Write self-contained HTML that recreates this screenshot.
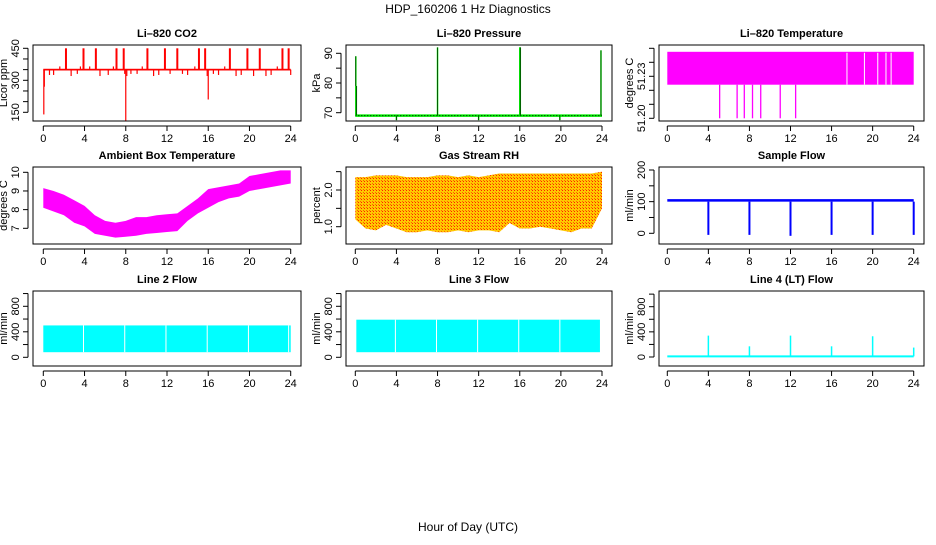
<!DOCTYPE html>
<html><head><meta charset="utf-8"><style>
body{margin:0;background:#fff}
svg text{font-family:"Liberation Sans",sans-serif;font-size:11px;fill:#000}
</style></head><body>
<svg id="c" width="936" height="540" xmlns="http://www.w3.org/2000/svg">
<text x="468" y="13" text-anchor="middle" style="font-size:12px">HDP_160206  1 Hz Diagnostics</text>
<text x="468" y="531" text-anchor="middle" style="font-size:12px">Hour of Day (UTC)</text>
</svg>
<script>
// ---- data ----
const xTicks=[0,4,8,12,16,20,24];
const co2Base=350;
const co2SpikeHours=[0.05,0.1,0.6,1,1.6,2.2,2.7,3.3,3.6,3.9,4.5,5.1,5.5,6.3,6.8,7.1,7.8,7.9,8.0,8.1,8.5,9.1,9.6,10.1,10.7,11.2,11.8,12.3,13.0,13.5,14.0,14.7,15.1,15.7,15.9,16.0,16.5,17.0,17.6,18.1,18.7,19.2,19.8,20.4,21.0,21.6,22.1,22.7,23.2,23.8,24.0];
const co2SpikeValues=[140,270,325,325,365,450,320,330,365,450,365,450,320,325,365,450,450,330,110,320,330,330,365,450,320,325,450,330,450,330,325,365,450,450,320,210,330,325,365,450,320,325,450,320,450,320,325,365,450,450,325];
const presBase=69;
const presSpikeHours=[0.05,0.1,4,8,12,16,16.05,19.9,23.9];
const presSpikeValues=[89,79,67.5,92,67.5,92,92,67.5,91];
const tempBandLow=51.224, tempBandHigh=51.2475;
const tempGapHours=[17.5,19.2,20.5,21.3,21.8];
const tempDropHours=[5.1,6.8,7.5,8.3,9.1,11.0,12.5];
const tempDropValues=[51.2,51.2,51.2,51.2,51.2,51.2,51.2];
const ambHours=[0,1,2,3,4,5,6,7,8,9,10,11,12,13,14,15,16,17,18,19,20,21,22,23,24];
const ambUpper=[9.15,9.0,8.8,8.5,8.2,7.7,7.4,7.3,7.4,7.6,7.6,7.7,7.75,7.8,8.2,8.6,9.1,9.2,9.3,9.4,9.8,9.9,10.0,10.1,10.1];
const ambLower=[8.1,7.9,7.7,7.3,7.1,6.7,6.6,6.5,6.55,6.6,6.7,6.75,6.8,6.85,7.4,7.8,8.1,8.4,8.6,8.7,9.0,9.1,9.2,9.3,9.4];
const rhHours=ambHours;
const rhUpper=[2.35,2.35,2.4,2.4,2.4,2.35,2.35,2.35,2.4,2.4,2.35,2.4,2.35,2.4,2.45,2.45,2.45,2.45,2.45,2.45,2.45,2.45,2.45,2.45,2.5];
const rhLower=[1.2,0.95,0.9,1.05,0.95,0.85,0.85,0.9,0.85,0.85,0.9,0.85,0.9,0.9,0.85,1.1,0.95,0.95,1.0,0.95,0.9,0.85,0.95,0.95,1.5];
const sfLow=100, sfHigh=108;
const sfDropHours=[4,8,12,16,20,24];
const sfDropValues=[-5,-5,-8,-5,-5,-5];
const l2Low=80, l2High=500;
const l2GapHours=[3.9,7.9,11.9,15.9,19.9,23.8];
const l3Low=80, l3High=590;
const l3GapHours=[3.9,7.9,11.9,15.9,19.9];
const l4Base=10;
const l4SpikeHours=[4,8,12,16,20,24];
const l4SpikeValues=[340,170,340,170,330,150];

// ---- helpers ----
const svg=document.getElementById('c');
const NS='http://www.w3.org/2000/svg';
function mk(tag,attrs,parent){const e=document.createElementNS(NS,tag);for(const k in attrs)e.setAttribute(k,attrs[k]);(parent||svg).appendChild(e);return e;}
const cols=[{l:33,r:301,x0:43.3,x24:290.7},{l:346,r:612,x0:355.3,x24:602},{l:659,r:924,x0:667.3,x24:913.7}];
const rows=[{t:45,b:121},{t:167,b:244},{t:291,b:366}];
function panel(ci,ri,name,title,ylab,yv0,yp0,yv1,yp1,yTickVals,yLabVals){
  const c=cols[ci],r=rows[ri];
  const g=mk('g',{});
  
  
  const X=h=>c.x0+(h/24)*(c.x24-c.x0);
  const Y=v=>yp0+(v-yv0)*(yp1-yp0)/(yv1-yv0);
  const plot=mk('g',{},g);
  
  
  const box=mk('rect',{x:c.l,y:r.t,width:c.r-c.l,height:r.b-r.t,fill:'none',stroke:'#000','stroke-width':1},g);
  
  
  const t=mk('text',{x:(c.l+c.r)/2,y:r.t-8,'text-anchor':'middle','font-weight':'bold'},g);t.textContent=title;
  
  
  const xa=mk('g',{},g);
  
  
  mk('line',{x1:X(0),x2:X(24),y1:r.b+5,y2:r.b+5,stroke:'#000'},xa);
  xTicks.forEach(h=>{mk('line',{x1:X(h),x2:X(h),y1:r.b+5,y2:r.b+10,stroke:'#000'},xa);
    const tx=mk('text',{x:X(h),y:r.b+21,'text-anchor':'middle'},xa);tx.textContent=h;});
  const ya=mk('g',{},g);
  
  
  const ax=c.l-5;
  mk('line',{x1:ax,x2:ax,y1:Y(yTickVals[0]),y2:Y(yTickVals[yTickVals.length-1]),stroke:'#000'},ya);
  yTickVals.forEach(v=>mk('line',{x1:ax-5,x2:ax,y1:Y(v),y2:Y(v),stroke:'#000'},ya));
  yLabVals.forEach(v=>{const tx=mk('text',{x:0,y:0,'text-anchor':'middle',transform:`translate(${ax-9},${Y(v)}) rotate(-90)`},ya);tx.textContent=v;});
  const yl=mk('text',{x:0,y:0,'text-anchor':'middle',transform:`translate(${ax-21},${(r.t+r.b)/2}) rotate(-90)`},g);yl.textContent=ylab;
  
  
  return {X,Y,plot};
}
function vseg(p,x,y1,y2,col,w){mk('line',{x1:x,x2:x,y1:y1,y2:y2,stroke:col,'stroke-width':w||1},p);}
function band(p,X,Y,hs,up,lo,fill){let d='';hs.forEach((h,i)=>d+=(i?'L':'M')+X(h)+','+Y(up[i]));for(let i=hs.length-1;i>=0;i--)d+='L'+X(hs[i])+','+Y(lo[i]);mk('path',{d:d+'Z',fill:fill},p);}

// pattern for RH
const defs=mk('defs',{});
const pat=mk('pattern',{id:'rh',width:3,height:3,patternUnits:'userSpaceOnUse'},defs);
mk('rect',{width:3,height:3,fill:'#ffc800'},pat);mk('rect',{x:1,y:1,width:1,height:1,fill:'#ff2000'},pat);mk('rect',{x:0,y:0,width:1,height:1,fill:'#ff6000'},pat);

// CO2
let P=panel(0,0,'co2-panel','Li\u2013820 CO2','Licor ppm',450,48.3,150,112.3,[150,200,250,300,350,400,450],[150,300,450]);
co2SpikeHours.forEach((h,i)=>vseg(P.plot,P.X(h),P.Y(co2Base),P.Y(co2SpikeValues[i]),'#f00',co2SpikeValues[i]>=440?2:1.2));
mk('rect',{x:P.X(0),y:P.Y(co2Base+4),width:P.X(24)-P.X(0),height:P.Y(co2Base-4)-P.Y(co2Base+4),fill:'#f00'},P.plot);

// Pressure
P=panel(1,0,'pressure-panel','Li\u2013820 Pressure','kPa',90,53.3,70,112.7,[70,75,80,85,90],[70,80,90]);
mk('line',{x1:P.X(0),x2:P.X(24),y1:P.Y(presBase),y2:P.Y(presBase),stroke:'#0e0','stroke-width':2.5},P.plot);
mk('line',{x1:P.X(0),x2:P.X(24),y1:P.Y(presBase),y2:P.Y(presBase),stroke:'#000','stroke-width':1,'stroke-dasharray':'1,2'},P.plot);
presSpikeHours.forEach((h,i)=>{vseg(P.plot,P.X(h),P.Y(presBase),P.Y(presSpikeValues[i]),'#0e0',1.5);vseg(P.plot,P.X(h),P.Y(presBase),P.Y(presSpikeValues[i]),'#000',0.6);});

// Li-820 Temperature
P=panel(2,0,'temperature-panel','Li\u2013820 Temperature','degrees C',51.20,118.3,51.25,48.3,[51.20,51.21,51.22,51.23,51.24,51.25],['51.20','51.23']);
mk('rect',{x:P.X(0),y:P.Y(tempBandHigh),width:P.X(24)-P.X(0),height:P.Y(tempBandLow)-P.Y(tempBandHigh),fill:'#f0f'},P.plot);
tempGapHours.forEach(h=>vseg(P.plot,P.X(h),P.Y(tempBandHigh)+1,P.Y(tempBandLow),'#fff',1));
tempDropHours.forEach((h,i)=>vseg(P.plot,P.X(h),P.Y(tempBandLow),P.Y(tempDropValues[i]),'#f0f',1.3));

// Ambient
P=panel(0,1,'ambient-temp-panel','Ambient Box Temperature','degrees C',10,172.3,7,228.3,[7,8,9,10],[7,8,9,10]);
band(P.plot,P.X,P.Y,ambHours,ambUpper,ambLower,'#f0f');

// RH
P=panel(1,1,'rh-panel','Gas Stream RH','percent',2.0,190,1.0,226.7,[1.0,1.5,2.0,2.5],['1.0','2.0']);
band(P.plot,P.X,P.Y,rhHours,rhUpper,rhLower,'url(#rh)');

// Sample flow
P=panel(2,1,'sample-flow-panel','Sample Flow','ml/min',0,233.3,200,170,[0,50,100,150,200],[0,100,200]);
mk('rect',{x:P.X(0),y:P.Y(sfHigh),width:P.X(24)-P.X(0),height:P.Y(sfLow)-P.Y(sfHigh),fill:'#00f'},P.plot);
sfDropHours.forEach((h,i)=>vseg(P.plot,P.X(h),P.Y(sfLow),P.Y(sfDropValues[i]),'#00f',2));

// Line 2
P=panel(0,2,'line2-flow-panel','Line 2 Flow','ml/min',0,357.3,800,306.3,[0,200,400,600,800,1000],[0,400,800]);
mk('rect',{x:P.X(0),y:P.Y(l2High),width:P.X(24)-P.X(0),height:P.Y(l2Low)-P.Y(l2High),fill:'#0ff'},P.plot);
l2GapHours.forEach(h=>vseg(P.plot,P.X(h),P.Y(l2High),P.Y(l2Low),'#fff',1));

// Line 3
P=panel(1,2,'line3-flow-panel','Line 3 Flow','ml/min',0,357.3,800,306.3,[0,200,400,600,800,1000],[0,400,800]);
mk('rect',{x:P.X(0.1),y:P.Y(l3High),width:P.X(23.8)-P.X(0.1),height:P.Y(l3Low)-P.Y(l3High),fill:'#0ff'},P.plot);
l3GapHours.forEach(h=>vseg(P.plot,P.X(h),P.Y(l3High),P.Y(l3Low),'#fff',1));

// Line 4
P=panel(2,2,'line4-flow-panel','Line 4 (LT) Flow','ml/min',0,357,800,306.7,[0,200,400,600,800,1000],[0,400,800]);
mk('line',{x1:P.X(0),x2:P.X(24),y1:P.Y(l4Base),y2:P.Y(l4Base),stroke:'#0ff','stroke-width':2},P.plot);
l4SpikeHours.forEach((h,i)=>vseg(P.plot,P.X(h),P.Y(l4Base),P.Y(l4SpikeValues[i]),'#0ff',1.5));
</script>
</body></html>
